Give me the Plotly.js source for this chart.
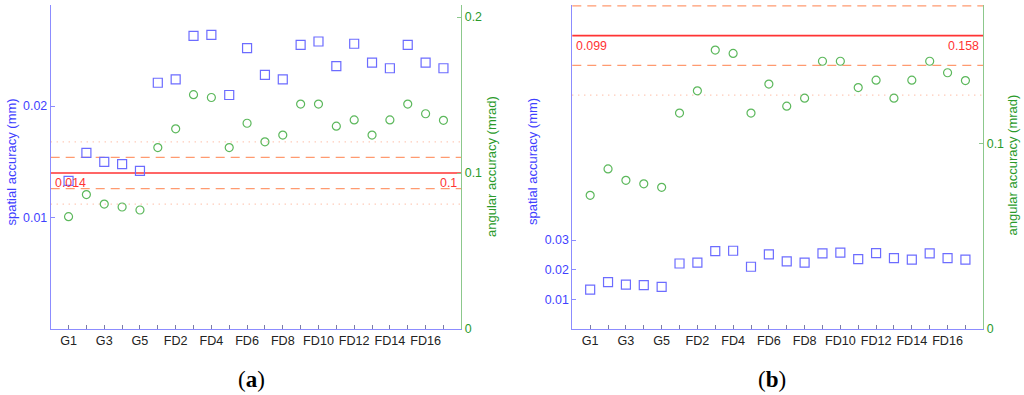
<!DOCTYPE html>
<html><head><meta charset="utf-8">
<script src="https://cdn.plot.ly/plotly-3.0.1.min.js"></script>
<style>html,body{margin:0;padding:0;background:#fff}</style>
</head><body><div id="chart" style="width:1024px;height:395px"></div>
<script>
// ---- data ----
const categories = ['G1','G2','G3','G4','G5','FD1','FD2','FD3','FD4','FD5','FD6','FD7','FD8','FD9','FD10','FD11','FD12','FD13','FD14','FD15','FD16','FD17'];
const spatialAccuracy = [0.0133,0.0158,0.0150,0.0148,0.0142,0.0221,0.0224,0.0263,0.0264,0.0210,0.0252,0.0228,0.0224,0.0255,0.0258,0.0236,0.0256,0.0239,0.0234,0.0255,0.0239,0.0234];
const angularAccuracy = [0.0720,0.0862,0.0801,0.0782,0.0763,0.1163,0.1283,0.1502,0.1484,0.1163,0.1319,0.1200,0.1243,0.1442,0.1442,0.1300,0.1340,0.1243,0.1340,0.1442,0.1380,0.1338];
// reference (mean) lines: angular value, spatial equivalent, std
const refA = {angular: 0.1, spatial: 0.014, std: 0.01, label: ['0.014','0.1']};
const refB = {angular: 0.158, spatial: 0.099, std: 0.016, label: ['0.099','0.158']};
const ticksA_left = [0.01, 0.02], ticksA_right = [0, 0.1, 0.2];
const ticksB_left = [0.01, 0.02, 0.03], ticksB_right = [0, 0.1];

const idx = categories.map((c,i)=>i+1);
const tickText = categories.map((c,i)=> i%2===0 ? c : '');

const W=1024,H=395;
const plotTop=5, plotBot=329;
const ydom=[1-plotBot/H, 1-plotTop/H];
const BLUE='#3f3fff', BLUEM='#6c6cff', BLUEAX='#8c8cff';
const GREEN='#2a9a2a', GREENM='#5cb85c', GREENAX='#8cc88c';
const RED='#ff3333', DASH='#ff9a70', DOT='#ffb49a';
const font={family:'Liberation Sans, Arial, sans-serif', size:12, color:'#262626'};

function sq(xa, ya){return {x:idx, y:spatialAccuracy, xaxis:xa, yaxis:ya, mode:'markers', type:'scatter',
  marker:{symbol:'square-open', size:9, color:BLUEM, line:{width:1.2}}, cliponaxis:false, showlegend:false, hoverinfo:'skip'};}
function ci(xa, ya){return {x:idx, y:angularAccuracy, xaxis:xa, yaxis:ya, mode:'markers', type:'scatter',
  marker:{symbol:'circle-open', size:8, color:GREENM, line:{width:1.2}}, cliponaxis:false, showlegend:false, hoverinfo:'skip'};}

const traces=[sq('x','y'), ci('x','y2'), sq('x2','y3'), ci('x2','y4')];

function xax(dom, anchor){return {domain:dom, anchor:anchor, range:[0,23], tickvals:idx, ticktext:tickText,
  ticks:'inside', ticklen:4, tickcolor:'#7a7aa8', showline:true, linecolor:BLUEAX, linewidth:1, showgrid:false, zeroline:false,
  tickfont:{size:12.6,color:'#222'}, fixedrange:true};}
function yl(range, tv, anchor){return {domain:ydom, anchor:anchor, range:range, tickvals:tv, ticktext:tv.map(String), ticks:'inside', ticklen:4,
  tickcolor:BLUEAX, showline:true, linecolor:BLUEAX, linewidth:1, showgrid:false, zeroline:false, tickfont:{size:12.4,color:BLUE}, fixedrange:true};}
function yr(range, tv, anchor, over){return {domain:ydom, anchor:anchor, overlaying:over, side:'right', range:range, tickvals:tv, ticktext:tv.map(String),
  ticks:'inside', ticklen:4, tickcolor:GREENAX, showline:true, linecolor:GREENAX, linewidth:1, showgrid:false, zeroline:false, tickfont:{size:12.4,color:GREEN}, fixedrange:true};}

const topA=0.2077, topB=0.1745;
const layout={
  width:W, height:H, margin:{l:0,r:0,t:0,b:0}, paper_bgcolor:'#fff', plot_bgcolor:'rgba(0,0,0,0)', font:font,
  xaxis: xax([50.7/W, 461.3/W], 'y'),
  yaxis: yl([0, topA*refA.spatial/refA.angular], ticksA_left, 'x'),
  yaxis2: yr([0, topA], ticksA_right, 'x', 'y'),
  xaxis2: xax([572.3/W, 983.3/W], 'y3'),
  yaxis3: yl([0, topB*refB.spatial/refB.angular], ticksB_left, 'x2'),
  yaxis4: yr([0, topB], ticksB_right, 'x2', 'y3'),
  shapes:[], annotations:[]
};
function refLines(ref, xd, yref){
  const s=layout.shapes;
  [[0,RED,'solid',1.7],[1,DASH,'9px,6px',1.2],[-1,DASH,'9px,6px',1.2],[2,DOT,'1px,5px',1.3],[-2,DOT,'1px,5px',1.3]].forEach(([k,c,d,w])=>{
    s.push({type:'line', xref:xd, x0:0, x1:1, yref:yref, y0:ref.angular+k*ref.std, y1:ref.angular+k*ref.std, line:{color:c,width:w,dash:d}, layer:'below'});
  });
}
refLines(refA,'x domain','y2');
refLines(refB,'x2 domain','y4');
function refLabels(ref, xd, yref){
  layout.annotations.push({xref:xd, x:0, xanchor:'left', xshift:2, yref:yref, y:ref.angular, yanchor:'top', yshift:-1, text:ref.label[0], showarrow:false, font:{size:12.4,color:RED}});
  layout.annotations.push({xref:xd, x:1, xanchor:'right', xshift:-2, yref:yref, y:ref.angular, yanchor:'top', yshift:-1, text:ref.label[1], showarrow:false, font:{size:12.4,color:RED}});
}
refLabels(refA,'x domain','y2');
refLabels(refB,'x2 domain','y4');

function ann(px,py,text,opts){layout.annotations.push(Object.assign({xref:'paper',yref:'paper',x:px/W,y:1-py/H,text:text,showarrow:false,xanchor:'center',yanchor:'middle'},opts));}
ann(10.5,162,'spatial accuracy (mm)',{textangle:-90,font:{size:13,color:BLUE}});
ann(491,167,'angular accuracy (mrad)',{textangle:-90,font:{size:13,color:GREEN}});
ann(532,162,'spatial accuracy (mm)',{textangle:-90,font:{size:13,color:BLUE}});
ann(1011.5,165,'angular accuracy (mrad)',{textangle:-90,font:{size:13,color:GREEN}});
ann(251,379,'(<b>a</b>)',{font:{family:'Liberation Serif, Times New Roman, serif',size:23,color:'#000'}});
ann(772,379,'(<b>b</b>)',{font:{family:'Liberation Serif, Times New Roman, serif',size:23,color:'#000'}});

Plotly.newPlot('chart', traces, layout, {displayModeBar:false, staticPlot:true});
</script></body></html>
